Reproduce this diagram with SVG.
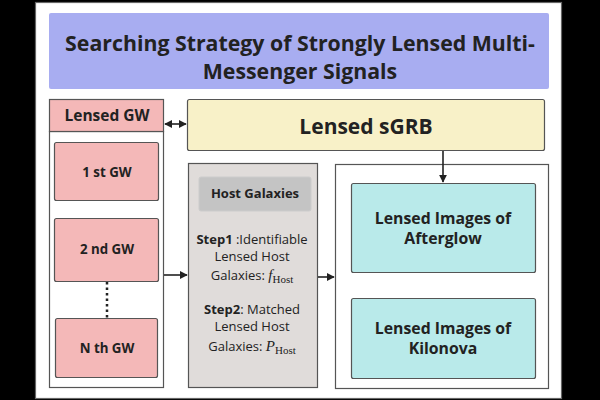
<svg xmlns="http://www.w3.org/2000/svg" width="600" height="400" viewBox="0 0 600 400">
<defs>
<style>
.t{font-family:"Open Sans","Noto Sans","Liberation Sans",sans-serif;fill:#222;text-anchor:middle}
.b{font-weight:bold}
.box{stroke:#555;stroke-width:1.2}
.cn{stroke:#222;stroke-width:1.6;fill:none}
.m{font-family:"Liberation Serif","DejaVu Serif",serif;fill:#222}
</style>
<marker id="ah" viewBox="0 0 10 10" refX="9" refY="5" markerWidth="5" markerHeight="5" orient="auto-start-reverse">
<path d="M0,0 L10,5 L0,10 z" fill="#222"/>
</marker>
</defs>
<rect x="0" y="0" width="600" height="400" fill="#000"/>
<rect x="35.5" y="2.5" width="526" height="396" fill="#fff" stroke="#666" stroke-width="1.2"/>

<g id="title">
<rect x="49" y="13" width="500" height="76" rx="2" fill="#a8adf1"/>
<text class="t b" x="300" y="51" font-size="21.3">Searching Strategy of Strongly Lensed Multi-</text>
<text class="t b" x="300" y="79" font-size="21.3">Messenger Signals</text>
</g>

<g id="lensed-gw">
<rect class="box" x="49.5" y="131.5" width="114" height="256" fill="#fff"/>
<rect class="box" x="49.5" y="99.5" width="114" height="32" fill="#f4b8b8"/>
<text class="t b" x="107" y="121" font-size="15.5">Lensed GW</text>
</g>
<g id="gw1">
<rect class="box" x="54.5" y="142.5" width="104" height="58" rx="2" fill="#f4b8b8"/>
<text class="t b" x="107" y="177" font-size="13.3">1 st GW</text>
</g>
<g id="gw2">
<rect class="box" x="54.5" y="218.5" width="104" height="63" rx="2" fill="#f4b8b8"/>
<text class="t b" x="107" y="254" font-size="13.3">2 nd GW</text>
</g>
<g id="gwn">
<rect class="box" x="55.5" y="318.5" width="102" height="59" rx="2" fill="#f4b8b8"/>
<text class="t b" x="107" y="353" font-size="13.3">N th GW</text>
</g>

<g id="sgrb">
<rect class="box" x="187.5" y="99.5" width="357" height="51" rx="2" fill="#f8f1c8"/>
<text class="t b" x="366" y="134" font-size="21">Lensed sGRB</text>
</g>

<g id="host">
<rect class="box" x="188.5" y="163.5" width="129" height="224" fill="#e0dcda"/>
<rect x="199" y="177" width="112" height="34" rx="2" fill="#c4c4c4" stroke="#ccc" stroke-width="1"/>
<text class="t b" x="255" y="198" font-size="13">Host Galaxies</text>
<text class="t" x="252" y="244" font-size="13"><tspan class="b">Step1</tspan> :Identifiable</text>
<text class="t" x="252" y="261" font-size="13">Lensed Host</text>
<text class="t" x="252" y="280" font-size="13">Galaxies: <tspan class="m" font-style="italic" font-size="15">f</tspan><tspan class="m" font-size="11" dy="3">Host</tspan></text>
<text class="t" x="252" y="314" font-size="13"><tspan class="b">Step2</tspan>: Matched</text>
<text class="t" x="252" y="331" font-size="13">Lensed Host</text>
<text class="t" x="252" y="351" font-size="13">Galaxies: <tspan class="m" font-style="italic" font-size="15">P</tspan><tspan class="m" font-size="11" dy="3">Host</tspan></text>
</g>

<g id="images">
<rect class="box" x="335.5" y="164.5" width="213" height="224" fill="#fff"/>
</g>
<g id="afterglow">
<rect class="box" x="351.5" y="183.5" width="184" height="89" rx="2" fill="#b9eaea"/>
<text class="t b" x="443" y="224" font-size="15.8">Lensed Images of</text>
<text class="t b" x="443" y="244" font-size="15.8">Afterglow</text>
</g>
<g id="kilonova">
<rect class="box" x="351.5" y="298.5" width="184" height="80" rx="2" fill="#b9eaea"/>
<text class="t b" x="443" y="334" font-size="15.8">Lensed Images of</text>
<text class="t b" x="443" y="354" font-size="15.8">Kilonova</text>
</g>

<g id="connectors">
<line class="cn" x1="165" y1="124" x2="186" y2="124" marker-start="url(#ah)" marker-end="url(#ah)"/>
<line class="cn" x1="164" y1="275" x2="187" y2="275" marker-end="url(#ah)"/>
<line class="cn" x1="318" y1="277" x2="334" y2="277" marker-end="url(#ah)"/>
<line class="cn" x1="443" y1="151" x2="443" y2="182" marker-end="url(#ah)"/>
<line x1="107" y1="282" x2="107" y2="318" stroke="#222" stroke-width="2.5" stroke-dasharray="2.5 3"/>
</g>
</svg>
